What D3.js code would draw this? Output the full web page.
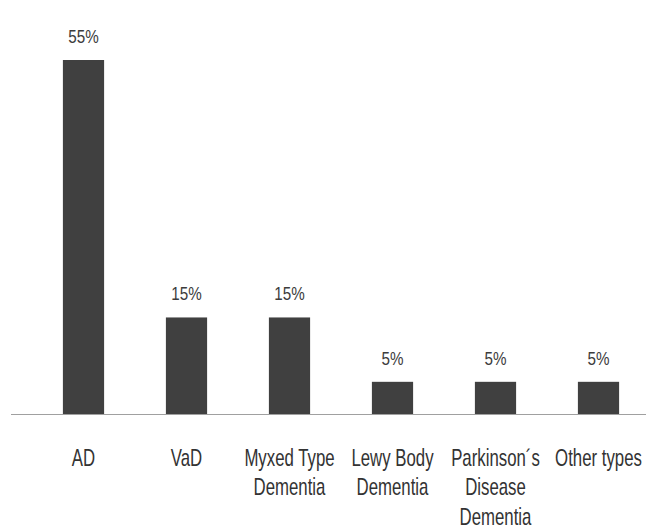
<!DOCTYPE html>
<html><head><meta charset="utf-8">
<script src="https://cdn.jsdelivr.net/npm/d3@7"></script>
<style>body{margin:0;background:#fff}</style>
</head><body>
<script>
const categories = [["AD"],["VaD"],["Myxed Type","Dementia"],["Lewy Body","Dementia"],["Parkinson´s","Disease","Dementia"],["Other types"]];
const values = [55,15,15,5,5,5];
const labels = ["55%","15%","15%","5%","5%","5%"];

const W=646,H=528;
const FONT="Liberation Sans, Arial, sans-serif";
const svg=d3.select("body").append("svg").attr("width",W).attr("height",H);
const x=d3.scaleBand().domain(d3.range(categories.length)).range([32,650]).paddingInner(0.6).paddingOuter(0.3);
const base=414;
const y=d3.scaleLinear().domain([0,55]).range([base,60]);

svg.append("line").attr("x1",11).attr("x2",646).attr("y1",base+0.5).attr("y2",base+0.5)
  .attr("stroke","#a0a0a0").attr("stroke-width",1.2);

svg.selectAll("rect.bar").data(values).join("rect").attr("class","bar")
  .attr("x",(d,i)=>x(i)).attr("width",x.bandwidth())
  .attr("y",d=>y(d)).attr("height",d=>base-y(d)).attr("fill","#404040");

svg.selectAll("text.val").data(values).join("text").attr("class","val")
  .attr("transform",(d,i)=>`translate(${x(i)+x.bandwidth()/2},${y(d)-17}) scale(0.8,1)`)
  .attr("text-anchor","middle").attr("font-family",FONT)
  .attr("font-size",19).attr("fill","#3c3c3c").text((d,i)=>labels[i]);

const g=svg.selectAll("text.cat").data(categories).join("text").attr("class","cat")
  .attr("transform",(d,i)=>`translate(${x(i)+x.bandwidth()/2},466) scale(0.7,1)`)
  .attr("text-anchor","middle").attr("font-family",FONT)
  .attr("font-size",24).attr("fill","#333");
g.each(function(d){
  const t=d3.select(this);
  d.forEach((line,k)=>t.append("tspan").attr("x",0).attr("dy",k===0?0:29.5).text(line));
});
</script>
</body></html>
